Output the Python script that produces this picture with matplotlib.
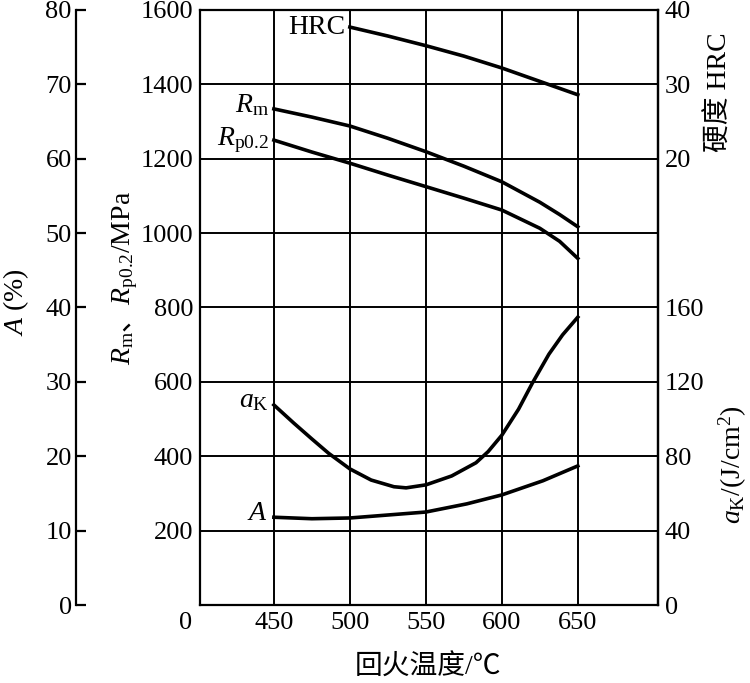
import matplotlib
matplotlib.use('agg')
import matplotlib.pyplot as plt

plt.rcParams['font.family'] = ['Liberation Serif', 'Noto Sans CJK SC']
plt.rcParams['mathtext.fontset'] = 'custom'
plt.rcParams['mathtext.rm'] = 'Liberation Serif'
plt.rcParams['mathtext.it'] = 'Liberation Serif:italic'
plt.rcParams['mathtext.bf'] = 'Liberation Serif:bold'

# tempering temperature ticks and curve data
temp_ticks = [450, 500, 550, 600, 650]
r_ticks = [200, 400, 600, 800, 1000, 1200, 1400, 1600]
hrc_ticks = [20, 30, 40]
ak_ticks = [0, 40, 80, 120, 160]
a_ticks = [0, 10, 20, 30, 40, 50, 60, 70, 80]

temp_hrc = [500, 525, 550, 575, 600, 625, 650]
hrc = [37.7, 36.5, 35.2, 33.8, 32.2, 30.4, 28.6]

temp_r = [450, 475, 500, 525, 550, 575, 600, 625, 638, 650]
rm = [1334, 1312, 1288, 1255, 1219, 1180, 1138, 1083, 1050, 1017]
rp02 = [1250, 1218, 1188, 1156, 1125, 1094, 1062, 1013, 978, 932]

temp_ak = [450, 463, 475, 486, 500, 514, 529, 537, 550, 567, 583, 591, 600,
           611, 620, 631, 640, 650]
ak = [107.6, 97.9, 89.3, 81.6, 73.2, 67.2, 63.6, 63.0, 64.6, 69.4, 76.5, 82.5,
      91.3, 105.3, 119.2, 134.9, 145.3, 154.8]

temp_a = [450, 475, 500, 550, 577, 600, 627, 650]
elong = [11.8, 11.6, 11.7, 12.5, 13.6, 14.8, 16.7, 18.7]

TICK = 19
LAB = 20
LW = 2.6

fig = plt.figure(figsize=(7.5, 6.83), dpi=100)
ax = fig.add_axes([0.2667, 0.1142, 0.6107, 0.8712])
ax.set_xlim(401.4, 702.8)
ax.set_ylim(0, 1600)
ax.set_xticks(temp_ticks)
ax.set_yticks(r_ticks)
ax.tick_params(length=0, labelsize=TICK, pad=5)
ax.grid(True, color='black', lw=1.4)
for s in ax.spines.values():
    s.set_linewidth(1.6)
ax.text(-14 / 458, -0.012, '0', transform=ax.transAxes, ha='center', va='top',
        fontsize=TICK)

ax.plot(temp_r, rm, color='black', lw=LW)
ax.plot(temp_r, rp02, color='black', lw=LW)
ax.text(447, 1345, r'$R_\mathrm{m}$', ha='right', va='center', fontsize=LAB)
ax.text(447, 1250, r'$R_\mathrm{p0.2}$', ha='right', va='center', fontsize=LAB)

# hardness axis (right, top part)
axH = ax.twinx()
axH.set_ylim(-40, 40)
axH.set_yticks(hrc_ticks)
axH.tick_params(length=0, labelsize=TICK, pad=5)
for k, s in axH.spines.items():
    s.set_visible(k == 'right')
    s.set_linewidth(1.6)
axH.plot(temp_hrc, hrc, color='black', lw=LW)
axH.text(497, 37.7, 'HRC', ha='right', va='center', fontsize=LAB)

# impact toughness axis (right, bottom part)
axK = ax.twinx()
axK.set_ylim(0, 320)
axK.set_yticks(ak_ticks)
axK.tick_params(length=0, labelsize=TICK, pad=5)
for s in axK.spines.values():
    s.set_visible(False)
axK.plot(temp_ak, ak, color='black', lw=LW)
axK.text(447, 110, r'$a_\mathrm{K}$', ha='right', va='center', fontsize=LAB)

# elongation axis (far left)
axA = ax.twinx()
axA.set_ylim(0, 80)
axA.set_yticks(a_ticks)
axA.yaxis.set_ticks_position('left')
axA.spines['left'].set_position(('axes', -124 / 458))
for k, s in axA.spines.items():
    s.set_visible(k == 'left')
    s.set_linewidth(1.6)
axA.tick_params(direction='in', length=7, width=1.6, labelsize=TICK, pad=3)
axA.plot(temp_a, elong, color='black', lw=LW)
axA.text(446, 12.3, '$A$', ha='right', va='center', fontsize=LAB)

fig.text(428 / 750, 1 - 668 / 683, '回火温度/℃', ha='center', va='center',
         fontsize=LAB)
fig.text(16 / 750, 1 - 302 / 683, '$A$ (%)', rotation=90, ha='center',
         va='center', fontsize=LAB)
fig.text(125 / 750, 1 - 278 / 683, r'$R_\mathrm{m}$、$R_\mathrm{p0.2}/\mathrm{MPa}$',
         rotation=90, ha='center', va='center', fontsize=LAB,
         family='Noto Sans CJK SC')
fig.text(720 / 750, 1 - 92 / 683, '硬度 HRC', rotation=90, ha='center',
         va='center', fontsize=LAB)
fig.text(733 / 750, 1 - 465 / 683, r'$a_\mathrm{K}/(\mathrm{J/cm}^2)$',
         rotation=90, ha='center', va='center', fontsize=LAB)

fig.savefig('out.png', dpi=100)
